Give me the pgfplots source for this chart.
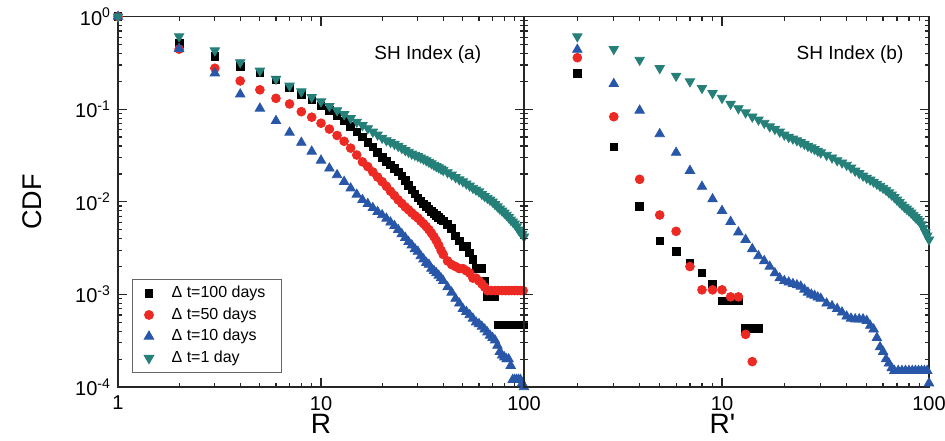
\documentclass[border=0pt]{standalone}
\usepackage{fontspec}
\setmainfont{Liberation Sans}
\usepackage{pgfplots}
\pgfplotsset{compat=1.18}
\definecolor{cred}{RGB}{237,41,36}
\definecolor{cblue}{RGB}{40,86,168}
\definecolor{cteal}{RGB}{36,128,120}
\pgfplotsset{
  cdf panel/.style={
    scale only axis, height=185.2pt,
    ymin=1e-4, ymax=1, xmax=100,
    axis line style={black!85, line width=0.8pt},
    tick style={black!85, line width=0.6pt},
    major tick length=4.5pt, minor tick length=2.2pt,
    tick align=inside,
    tick label style={font=\fontsize{10}{12}\selectfont},
    log ticks with fixed point,
    xticklabel style={/pgf/number format/assume math mode=true, yshift=-1pt},
    yticklabel={10\textsuperscript{\pgfmathparse{int(round(\tick/2.302585))}\pgfmathresult}},
    xlabel style={font=\fontsize{14}{16}\selectfont},
    ylabel style={font=\fontsize{13.5}{15}\selectfont},
  },
}
\tikzset{
  sq/.style={only marks, mark=square*, mark size=1.9pt, color=black},
  ci/.style={only marks, mark=*, mark size=2.2pt, color=cred},
  tu/.style={only marks, mark=triangle*, mark size=2.7pt, color=cblue},
  td/.style={only marks, mark=triangle*, mark size=2.7pt, mark options={rotate=180}, color=cteal},
}
\begin{document}
\begin{tikzpicture}
\path[use as bounding box] (-59pt,-26.5pt) rectangle (413.5pt,193.5pt);
\begin{loglogaxis}[cdf panel, width=203pt, xmin=1,
  xlabel={R}, ylabel={CDF},
  xlabel style={at={(axis description cs:0.5,0)}, anchor=center, yshift=-18.5pt},
  ylabel style={at={(axis description cs:-0.212,0.5)}, anchor=center},
  legend cell align=left,
  legend style={at={(axis description cs:0.034,0.038)}, anchor=south west,
    draw=black!60, line width=0.5pt, font=\fontsize{8}{9}\selectfont,
    row sep=-0.5pt, column sep=7pt, inner xsep=6pt, inner ysep=1.5pt},
  ]
\addplot[sq] coordinates {(1,1)(2,0.515)(3,0.37)(4,0.29)(5,0.25)(6,0.207)(7,0.17)(8,0.145)(9,0.126)(10,0.109)(11,0.097)(12,0.086)(13,0.075)(14,0.065)(15,0.057)(16,0.050)(17,0.044)(18,0.039)(19,0.034)(20,0.030)(21,0.0275)(22,0.025)(23,0.023)(24,0.021)(25,0.019)(26,0.017)(27,0.015)(28,0.0135)(29,0.0122)(30,0.0110)(31,0.0102)(32,0.0095)(33,0.0089)(34,0.0084)(35,0.0079)(36,0.0075)(37,0.0071)(38,0.0068)(39,0.0065)(40,0.0062)(42,0.0057)(44,0.0052)(46,0.0043)(48,0.0038)(50,0.0033)(52,0.0033)(54,0.0028)(56,0.0024)(58,0.0019)(60,0.0019)(62,0.0019)(64,0.0014)(66,0.00095)(68,0.00095)(70,0.00095)(72,0.00095)(75,0.00047)(78,0.00047)(81,0.00047)(84,0.00047)(87,0.00047)(90,0.00047)(93,0.00047)(96,0.00047)(99,0.00047)};
\addlegendentry{Δ t=100 days}
\addplot[ci] coordinates {(1,1)(2,0.445)(3,0.277)(4,0.202)(5,0.162)(6,0.131)(7,0.114)(8,0.094)(9,0.082)(10,0.0706)(11,0.061)(12,0.052)(13,0.045)(14,0.038)(15,0.032)(16,0.027)(17,0.024)(18,0.021)(19,0.0185)(20,0.0165)(21,0.0147)(22,0.0130)(23,0.0117)(24,0.0105)(25,0.0096)(26,0.0088)(27,0.0082)(28,0.0076)(29,0.0071)(30,0.0067)(31,0.0062)(32,0.0058)(33,0.0054)(34,0.0050)(35,0.0046)(36,0.0042)(37,0.0038)(38,0.0034)(39,0.0030)(40,0.0027)(42,0.0023)(44,0.0021)(46,0.0020)(48,0.0019)(50,0.0019)(52,0.0018)(54,0.0017)(56,0.0015)(58,0.0015)(60,0.0014)(62,0.0013)(64,0.0012)(66,0.0011)(69,0.0011)(72,0.0011)(75,0.0011)(78,0.0011)(81,0.0011)(84,0.0011)(87,0.0011)(90,0.0011)(93,0.0011)(96,0.0011)(99,0.0011)};
\addlegendentry{Δ t=50 days}
\addplot[tu] coordinates {(1,1)(2,0.45)(3,0.245)(4,0.145)(5,0.102)(6,0.075)(7,0.056)(8,0.0436)(9,0.035)(10,0.028)(11,0.023)(12,0.0195)(13,0.0165)(14,0.0140)(15,0.0120)(16,0.0105)(17,0.0095)(18,0.0086)(19,0.0078)(20,0.0072)(21,0.0066)(22,0.0060)(23,0.0055)(24,0.0050)(25,0.0045)(26,0.0041)(27,0.0037)(28,0.0034)(29,0.0031)(30,0.0029)(31,0.0026)(32,0.0024)(33,0.0022)(34,0.0021)(35,0.0019)(36,0.0018)(37,0.0017)(38,0.0016)(39,0.0015)(40,0.0014)(42,0.0012)(44,0.00105)(46,0.0009)(48,0.0008)(50,0.0007)(52,0.00065)(54,0.0006)(56,0.00055)(58,0.0005)(60,0.00048)(62,0.00045)(64,0.00042)(66,0.00039)(68,0.00036)(70,0.00034)(72,0.00032)(74,0.00028)(76,0.00024)(78,0.00022)(80,0.00021)(82,0.0002)(84,0.0002)(86,0.00017)(88,0.00012)(90,0.00012)(92,0.00012)(94,0.00012)(96,0.00012)(98,0.00011)(100,0.0001)};
\addlegendentry{Δ t=10 days}
\addplot[td] coordinates {(1,1)(2,0.61)(3,0.43)(4,0.32)(5,0.26)(6,0.212)(7,0.179)(8,0.155)(9,0.135)(10,0.121)(11,0.108)(12,0.097)(13,0.088)(14,0.080)(15,0.073)(16,0.067)(17,0.062)(18,0.057)(19,0.053)(20,0.049)(21,0.046)(22,0.044)(23,0.042)(24,0.040)(25,0.038)(26,0.036)(27,0.0345)(28,0.033)(29,0.032)(30,0.031)(31,0.030)(32,0.029)(33,0.028)(34,0.027)(35,0.026)(36,0.025)(37,0.0242)(38,0.0235)(39,0.0227)(40,0.022)(42,0.0208)(44,0.0196)(46,0.0184)(48,0.0174)(50,0.0166)(52,0.0157)(54,0.0149)(56,0.0141)(58,0.0135)(60,0.0129)(62,0.0121)(64,0.0115)(66,0.0110)(68,0.0105)(70,0.0100)(72,0.0094)(74,0.0089)(76,0.0084)(78,0.0080)(80,0.0076)(82,0.0072)(84,0.0068)(86,0.0064)(88,0.0061)(90,0.0058)(92,0.0054)(94,0.0050)(96,0.0047)(98,0.0045)(100,0.0042)};
\addlegendentry{Δ t=1 day}
\node[font=\fontsize{9.5}{11}\selectfont] at (axis description cs:0.763,0.897) {SH Index (a)};
\end{loglogaxis}
\begin{loglogaxis}[cdf panel, at={(203pt,0)}, width=202.5pt, xmin=1.105,
  yticklabels={},
  xlabel={R\textquotesingle},
  xlabel style={at={(axis description cs:0.49,0)}, anchor=center, yshift=-18.5pt},
  ]
\addplot[sq] coordinates {(2,0.245)(3,0.039)(4,0.0089)(5,0.0038)(6,0.0029)(7,0.0022)(8,0.0017)(9,0.0013)(10,0.00085)(11,0.00085)(12,0.00085)(13,0.00043)(14,0.00043)(15,0.00043)};
\addplot[ci] coordinates {(2,0.36)(3,0.083)(4,0.0175)(5,0.0072)(6,0.0048)(7,0.0020)(8,0.00112)(9,0.00112)(10,0.00112)(11,0.00094)(12,0.00094)(13,0.00037)(14,0.000188)};
\addplot[tu] coordinates {(2,0.44)(3,0.188)(4,0.097)(5,0.054)(6,0.034)(7,0.0217)(8,0.0146)(9,0.0107)(10,0.0080)(11,0.0061)(12,0.0047)(13,0.0039)(14,0.0031)(15,0.0026)(16,0.0023)(17,0.0020)(18,0.0017)(19,0.0015)(20,0.0014)(21,0.00135)(22,0.0013)(23,0.00126)(24,0.00122)(25,0.00113)(26,0.00105)(27,0.0010)(28,0.00097)(29,0.00093)(30,0.0009)(32,0.0008)(34,0.00075)(36,0.0007)(38,0.00064)(40,0.00058)(42,0.00055)(44,0.00054)(46,0.00054)(48,0.00054)(50,0.00052)(52,0.00046)(54,0.00042)(56,0.00034)(58,0.00027)(60,0.00024)(62,0.0002)(64,0.00018)(66,0.00016)(68,0.00015)(71,0.00015)(74,0.00015)(77,0.00015)(80,0.00015)(83,0.00015)(86,0.00015)(89,0.00015)(92,0.00015)(95,0.00015)(98,0.00015)(100,0.00011)};
\addplot[td] coordinates {(2,0.61)(3,0.445)(4,0.34)(5,0.277)(6,0.229)(7,0.199)(8,0.169)(9,0.149)(10,0.132)(11,0.114)(12,0.102)(13,0.092)(14,0.083)(15,0.077)(16,0.071)(17,0.065)(18,0.061)(19,0.057)(20,0.053)(21,0.050)(22,0.048)(23,0.046)(24,0.044)(25,0.042)(26,0.040)(27,0.0385)(28,0.037)(29,0.0355)(30,0.034)(32,0.032)(34,0.030)(36,0.028)(38,0.0265)(40,0.025)(42,0.0233)(44,0.0216)(46,0.0203)(48,0.0191)(50,0.0181)(52,0.0173)(54,0.0164)(56,0.0156)(58,0.0148)(60,0.0141)(62,0.0134)(64,0.0126)(66,0.0119)(68,0.0112)(70,0.0105)(72,0.0099)(74,0.0093)(76,0.0088)(78,0.0084)(80,0.0080)(82,0.0076)(84,0.0072)(86,0.0068)(88,0.0065)(90,0.0062)(92,0.0057)(94,0.0052)(96,0.0047)(98,0.0043)(100,0.0039)};
\node[font=\fontsize{9.5}{11}\selectfont] at (axis description cs:0.805,0.897) {SH Index (b)};
\end{loglogaxis}
\end{tikzpicture}
\end{document}
